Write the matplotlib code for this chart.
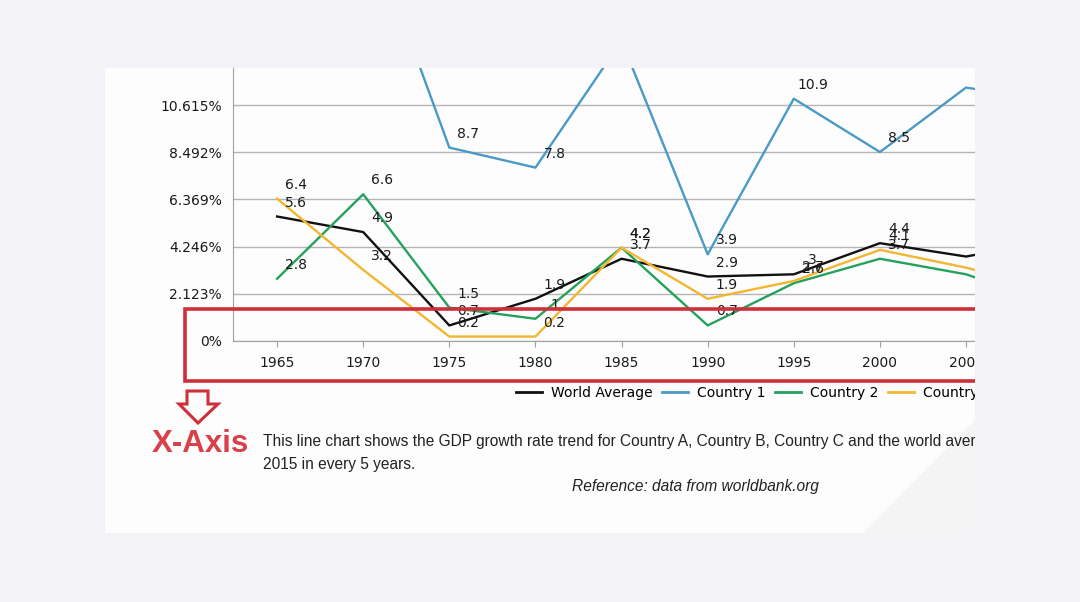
import matplotlib.pyplot as plt
from matplotlib.lines import Line2D
from matplotlib.patches import Rectangle, Polygon

plt.rcParams['font.family'] = 'DejaVu Sans'
plt.rcParams['font.size'] = 10

# GDP growth rate (%), every 5 years
years = [1965, 1970, 1975, 1980, 1985, 1990, 1995, 2000, 2005, 2010]
world = [5.6, 4.9, 0.7, 1.9, 3.7, 2.9, 3.0, 4.4, 3.8, 4.5]
country1 = [16.0, 19.3, 8.7, 7.8, 13.5, 3.9, 10.9, 8.5, 11.4, 10.8]
country2 = [2.8, 6.6, 1.5, 1.0, 4.2, 0.7, 2.6, 3.7, 3.0, 1.7]
country3 = [6.4, 3.2, 0.2, 0.2, 4.2, 1.9, 2.7, 4.1, 3.3, 2.3]

names = ['World Average', 'Country 1', 'Country 2', 'Country 3']
colors = ['#111111', '#4a9ac8', '#24a15c', '#f2b630']

ytick_vals = [0, 2.123, 4.246, 6.369, 8.492, 10.615]
ytick_labels = ['0%', '2.123%', '4.246%', '6.369%', '8.492%', '10.615%']

caption = ('This line chart shows the GDP growth rate trend for Country A, Country B, '
           'Country C and the world average from 1965 to\n2015 in every 5 years.')
reference = 'Reference: data from worldbank.org'

W, H = 1080, 602
def fx(x):
    return x / W
def fy(y):
    return 1 - y / H

fig = plt.figure(figsize=(10.8, 6.02), dpi=100, facecolor='#f2f2f7')

# white screenshot card
fig.patches.append(Rectangle((fx(105), fy(533)), (975 - 105) / W, (533 - 68) / H,
                             transform=fig.transFigure, facecolor='#fdfdfd',
                             edgecolor='none', zorder=-2))
# faint shadow at bottom right of the card
fig.patches.append(Polygon([(fx(975), fy(420)), (fx(975), fy(533)), (fx(863), fy(533))],
                           closed=True, transform=fig.transFigure,
                           facecolor='#f4f4f4', edgecolor='none', zorder=-1))

ax = fig.add_axes([fx(233), fy(341), (975 - 233) / W, (341 - 68) / H])
ax.set_facecolor('none')

series = [world, country1, country2, country3]
for vals, name, c in zip(series, names, colors):
    ax.plot(years, vals, color=c, lw=1.7, label=name, zorder=3)
# value labels; the ones from 2005 on fall past the cropped edge
for vals in series:
    for x, v in zip(years, vals):
        if x >= 2005:
            continue
        ax.annotate('{:g}'.format(v), (x, v), xytext=(19, 14), textcoords='offset pixels',
                    ha='center', va='center', fontsize=10, color='#1a1a1a', zorder=4)

ax.set_xlim(1962.44, 2005.52)
ax.set_ylim(0, 12.28)
ax.set_xticks(years[:-1])
ax.set_yticks(ytick_vals)
ax.set_yticklabels(ytick_labels)
ax.tick_params(axis='y', length=0, pad=8, labelcolor='#1a1a1a')
ax.tick_params(axis='x', length=4, color='#a0a0a0', pad=7, labelcolor='#1a1a1a')
ax.yaxis.grid(True, color='#b4b4b4', lw=1)
ax.set_axisbelow(True)
for s in ['top', 'right']:
    ax.spines[s].set_visible(False)
for s in ['left', 'bottom']:
    ax.spines[s].set_color('#a0a0a0')

handles = [Line2D([], [], color=c, lw=2) for c in colors]
fig.legend(handles, names, loc='center left', bbox_to_anchor=(fx(516), fy(393)),
           ncol=4, frameon=False, fontsize=10, handlelength=1.9,
           handletextpad=0.6, columnspacing=0.7, borderpad=0, borderaxespad=0)

# red highlight box around the x axis
fig.patches.append(Rectangle((fx(185), fy(381)), (1000 - 185) / W, (381 - 309) / H,
                             transform=fig.transFigure, facecolor='none',
                             edgecolor='#cf2f3a', lw=2.6, zorder=6))
# hollow arrow
arrow = [(187, 391), (208, 391), (208, 404), (218, 404), (198, 423), (179, 404), (187, 404)]
fig.patches.append(Polygon([(fx(a), fy(b)) for a, b in arrow], closed=True,
                           transform=fig.transFigure, facecolor='none',
                           edgecolor='#cf2f3a', lw=2.2, zorder=6))
fig.text(fx(200), fy(444), 'X-Axis', ha='center', va='center', fontsize=22.5,
         fontweight='bold', color='#d9404a', family='Liberation Sans')

fig.text(fx(263), fy(453), caption, ha='left', va='center', fontsize=11.2,
         color='#222222', family='Liberation Sans', linespacing=1.6)
fig.text(fx(695), fy(486), reference, ha='center', va='center', fontsize=11.2,
         style='italic', color='#222222', family='Liberation Sans')

# hide everything that runs past the right edge of the card
fig.patches.append(Rectangle((fx(975), 0), (W - 975) / W, 1, transform=fig.transFigure,
                             facecolor='#f2f2f7', edgecolor='none', zorder=100))

fig.savefig('out.png', dpi=100, facecolor=fig.get_facecolor())
